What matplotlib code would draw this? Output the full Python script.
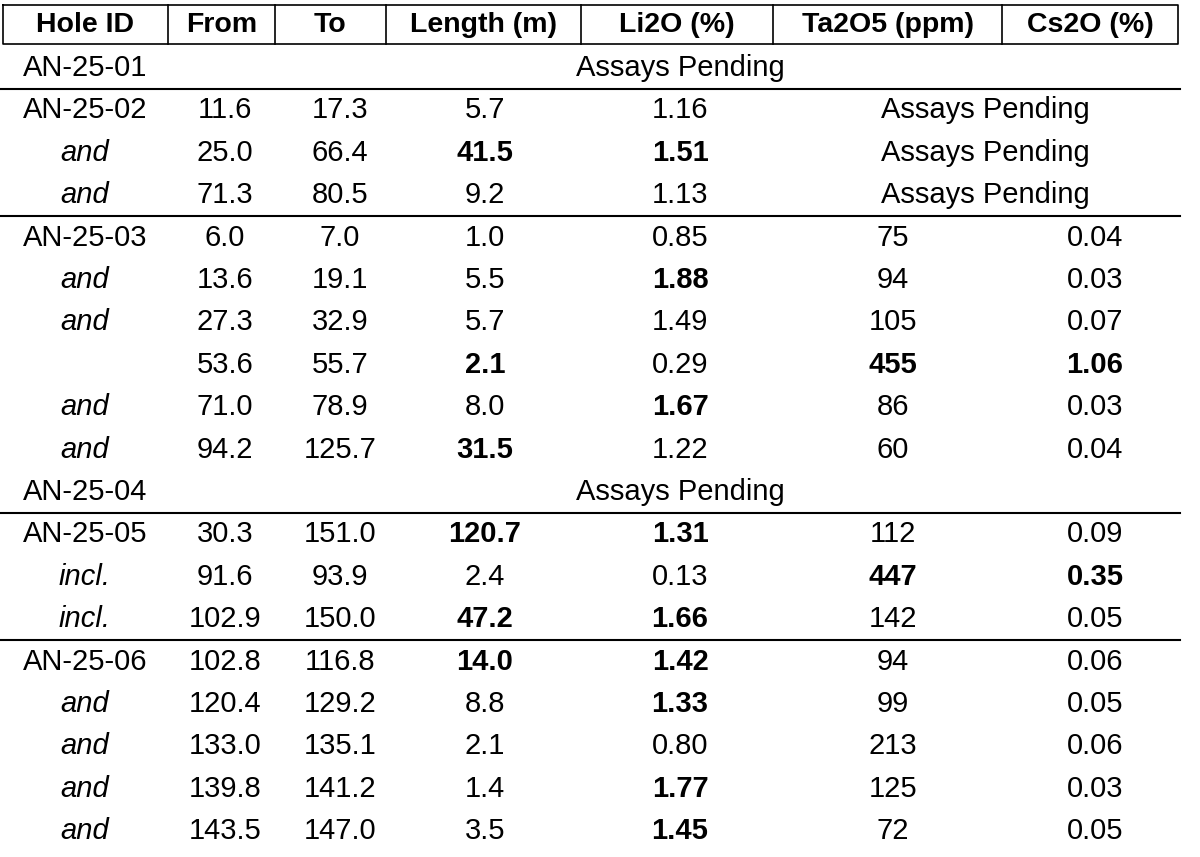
import matplotlib.pyplot as plt
from matplotlib import font_manager

headers = ["Hole ID", "From", "To", "Length (m)", "Li2O (%)", "Ta2O5 (ppm)", "Cs2O (%)"]
hole_ids = ["AN-25-01", "AN-25-02", "and", "and", "AN-25-03", "and", "and", "", "and", "and",
            "AN-25-04", "AN-25-05", "incl.", "incl.", "AN-25-06", "and", "and", "and", "and"]
from_m = ["", "11.6", "25.0", "71.3", "6.0", "13.6", "27.3", "53.6", "71.0", "94.2",
          "", "30.3", "91.6", "102.9", "102.8", "120.4", "133.0", "139.8", "143.5"]
to_m = ["", "17.3", "66.4", "80.5", "7.0", "19.1", "32.9", "55.7", "78.9", "125.7",
        "", "151.0", "93.9", "150.0", "116.8", "129.2", "135.1", "141.2", "147.0"]
length = ["", "5.7", "41.5", "9.2", "1.0", "5.5", "5.7", "2.1", "8.0", "31.5",
          "", "120.7", "2.4", "47.2", "14.0", "8.8", "2.1", "1.4", "3.5"]
li2o = ["", "1.16", "1.51", "1.13", "0.85", "1.88", "1.49", "0.29", "1.67", "1.22",
        "", "1.31", "0.13", "1.66", "1.42", "1.33", "0.80", "1.77", "1.45"]
ta2o5 = ["", "", "", "", "75", "94", "105", "455", "86", "60",
         "", "112", "447", "142", "94", "99", "213", "125", "72"]
cs2o = ["", "", "", "", "0.04", "0.03", "0.07", "1.06", "0.03", "0.04",
        "", "0.09", "0.35", "0.05", "0.06", "0.05", "0.06", "0.03", "0.05"]
# bold cells: (row, column)
bold_cells = {(2, 3), (2, 4), (5, 4), (7, 3), (7, 5), (7, 6), (8, 4), (9, 3),
              (11, 3), (11, 4), (12, 5), (12, 6), (13, 3), (13, 4), (14, 3), (14, 4),
              (15, 4), (17, 4), (18, 4)}
pending_full = [0, 10]          # "Assays Pending" across all data columns
pending_ta_cs = [1, 2, 3]       # "Assays Pending" across Ta2O5 and Cs2O
group_starts = [1, 4, 11, 14]   # rows with a line above them

fams = {f.name for f in font_manager.fontManager.ttflist}
head_font = "Liberation Sans Narrow" if "Liberation Sans Narrow" in fams else "Liberation Sans"

fig = plt.figure(figsize=(12, 8.57), dpi=100)
ax = fig.add_axes([0, 0, 1, 1])
ax.set_xlim(0, 1200)
ax.set_ylim(857, 0)
ax.axis("off")

col_edges = [3, 168, 275, 386, 581, 773, 1002, 1178]
col_x = [85, 225, 340, 485, 680, 893, 1095]
head_top, head_bot = 5, 44
row_h = 42.4
row0 = 68
fs = 21

# header box
ax.plot([col_edges[0], col_edges[-1], col_edges[-1], col_edges[0], col_edges[0]],
        [head_top, head_top, head_bot, head_bot, head_top], color="black", lw=1.2)
for xe in col_edges[1:-1]:
    ax.plot([xe, xe], [head_top, head_bot], color="black", lw=1.2)
for i, h in enumerate(headers):
    ax.text((col_edges[i] + col_edges[i + 1]) / 2, 25, h,
            ha="center", va="center", fontsize=20.5, fontweight="bold", family=head_font)

columns = [hole_ids, from_m, to_m, length, li2o, ta2o5, cs2o]
for r in range(len(hole_ids)):
    y = row0 + r * row_h
    for c, col in enumerate(columns):
        txt = col[r]
        if not txt:
            continue
        italic = c == 0 and txt in ("and", "incl.")
        ax.text(col_x[c], y, txt, ha="center", va="center", fontsize=fs,
                family="Liberation Sans",
                fontweight="bold" if (r, c) in bold_cells else "normal",
                fontstyle="italic" if italic else "normal")
    if r in pending_full:
        ax.text(680, y, "Assays Pending", ha="center", va="center", fontsize=fs,
                family="Liberation Sans")
    if r in pending_ta_cs:
        ax.text(985, y, "Assays Pending", ha="center", va="center", fontsize=fs,
                family="Liberation Sans")
    if r in group_starts:
        yl = y - row_h / 2
        ax.plot([0, 1180], [yl, yl], color="black", lw=1.5)

fig.savefig("out.png", dpi=100)
